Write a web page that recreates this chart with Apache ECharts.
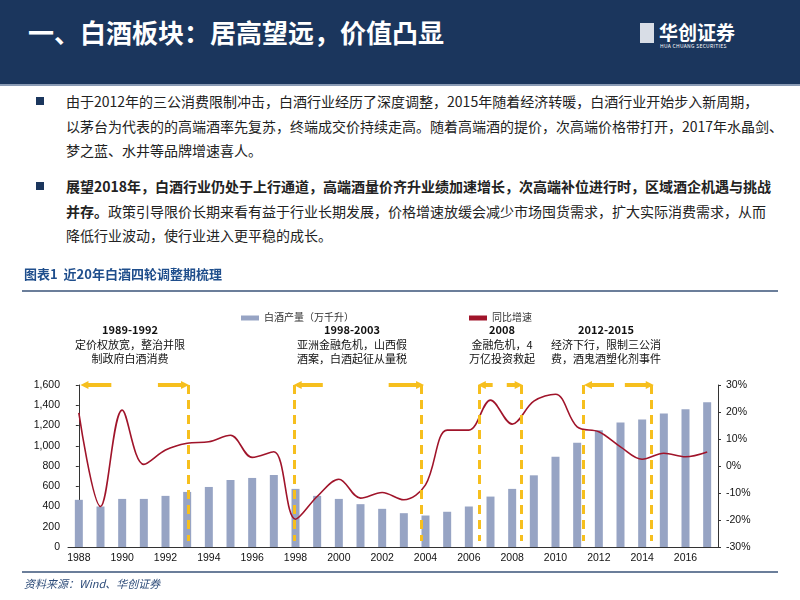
<!DOCTYPE html>
<html><head><meta charset="utf-8">
<script src="https://cdn.jsdelivr.net/npm/echarts@6/dist/echarts.min.js"></script>
<style>
body{margin:0;width:800px;height:600px;background:#fff;font-family:"Noto Sans CJK SC",sans-serif;position:relative;overflow:hidden}
#head{position:absolute;left:0;top:0;width:800px;height:84px;background:#1b365d;border-bottom:2px solid #8a9bb5}
#head .t{position:absolute;left:28px;top:13px;color:#fff;font-size:26px;font-weight:bold}
#head .logo{position:absolute;left:640px;top:18px;color:#fff;font-size:19px;font-weight:bold}
#head .logo small{display:block;font-size:5px;font-weight:normal;letter-spacing:.3px;margin-left:20px;margin-top:-3px}
#head .logo i{display:inline-block;width:14px;height:20px;background:#d8dde6;margin-right:5px;vertical-align:-3px}
.p{position:absolute;left:66px;white-space:nowrap;font-size:14px;line-height:24.5px;color:#222}
.b{position:absolute;left:36px;width:8px;height:8px;background:#1b365d}
#chart{position:absolute;left:0;top:260px;width:800px;height:340px}
</style></head><body>
<div id="head"><div class="t">一、白酒板块：居高望远，价值凸显</div>
<div class="logo"><i></i>华创证券<small>HUA CHUANG SECURITIES</small></div></div>
<div class="b" style="top:97px"></div>
<div class="p" style="top:89px">由于2012年的三公消费限制冲击，白酒行业经历了深度调整，2015年随着经济转暖，白酒行业开始步入新周期，<br>以茅台为代表的的高端酒率先复苏，终端成交价持续走高。随着高端酒的提价，次高端价格带打开，2017年水晶剑、<br>梦之蓝、水井等品牌增速喜人。</div>
<div class="b" style="top:182px"></div>
<div class="p" style="top:174px"><b>展望2018年，白酒行业仍处于上行通道，高端酒量价齐升业绩加速增长，次高端补位进行时，区域酒企机遇与挑战<br>并存。</b>政策引导限价长期来看有益于行业长期发展，价格增速放缓会减少市场囤货需求，扩大实际消费需求，从而<br>降低行业波动，使行业进入更平稳的成长。</div>
<div id="chart"></div>
<script>
var years = [];
for (var y = 1988; y <= 2017; y++) years.push(String(y));
var output = [466,400,475,475,505,544,593,662,682,711,574,505,475,423,377,334,311,348,400,498,574,708,892,1030,1154,1230,1259,1318,1361,1430];
var growth = [19.7,-15,20.7,0.6,5.9,8.4,9,11.4,3.2,5.3,-19.7,-11.3,-4.9,-11.9,-9.8,-12.5,-7,13.3,13.3,24.4,15.5,24,26.6,14.5,12.7,7.1,2.5,4.7,3.4,5.2];
// 调整期边界（类目序号）
var periodLines = [5.05, 9.92, 15.8, 18.5, 20.4, 23.3, 26.4];
// 箭头 [起点, 终点]
var arrows = [[1.5,0.26],[3.65,4.9],[11.26,10.1],[14.3,15.75],[19.1,18.6],[19.75,20.3],[24.7,23.5],[25.2,26.35]];
var notes = [
  {x:130, title:'1989-1992', lines:['定价权放宽，整治并限','制政府白酒消费']},
  {x:352, title:'1998-2003', lines:['亚洲金融危机，山西假','酒案，白酒起征从量税']},
  {x:502, title:'2008', lines:['金融危机，4','万亿投资救起']},
  {x:606, title:'2012-2015', lines:['经济下行，限制三公消','费，酒鬼酒塑化剂事件']}
];
var yellow = '#f6bf1e';
var markData = [];
periodLines.forEach(function(x){
  markData.push([{coord:[x,1600],symbol:'none',lineStyle:{type:[9,6],width:3,color:yellow}},{coord:[x,60],symbol:'none'}]);
});
arrows.forEach(function(a){
  markData.push([{coord:[a[0],1600],symbol:'none',lineStyle:{type:'solid',width:4,color:yellow}},{coord:[a[1],1600],symbol:'triangle',symbolSize:[8,8]}]);
});
var graphics = [
  {type:'text',left:24,top:8,style:{text:'图表1  近20年白酒四轮调整期梳理',fill:'#1f4e8c',font:'bold 13px "Noto Sans CJK SC"'}},
  {type:'line',shape:{x1:22,y1:31,x2:778,y2:31},style:{stroke:'#3a5378',lineWidth:1.5}},
  {type:'line',shape:{x1:22,y1:312,x2:778,y2:312},style:{stroke:'#3a5378',lineWidth:1.5}},
  {type:'text',left:24,top:318,style:{text:'资料来源：Wind、华创证券',fill:'#2f4d7a',font:'italic 11px "Noto Sans CJK SC"'}}
];
notes.forEach(function(n){
  graphics.push({type:'text',x:n.x,y:64,style:{text:n.title,fill:'#111',align:'center',font:'bold 11px "Noto Sans CJK SC"'}});
  graphics.push({type:'text',x:n.x,y:78,style:{text:n.lines.join('\n'),fill:'#111',align:'center',lineHeight:14,font:'11px "Noto Sans CJK SC"'}});
});
var chart = echarts.init(document.getElementById('chart'));
chart.setOption({
  animation:false,
  textStyle:{fontFamily:'Liberation Sans, "Noto Sans CJK SC"'},
  grid:{left:68,right:82,top:125,bottom:53},
  legend:{top:48,left:236,itemGap:115,itemWidth:18,itemHeight:5,textStyle:{fontSize:10,color:'#333'},
    data:[{name:'白酒产量（万千升）',icon:'rect'},{name:'同比增速',icon:'rect'}]},
  graphic:graphics,
  xAxis:[{type:'category',data:years,axisTick:{alignWithLabel:false,interval:0,length:3},
    axisLine:{lineStyle:{color:'#333'}},axisLabel:{interval:1,color:'#111',fontSize:10.5,margin:6}},
    {type:'value',min:-0.5,max:29.5,show:false}],
  yAxis:[{type:'value',min:0,max:1600,interval:200,splitLine:{show:false},
    axisLine:{show:true,lineStyle:{color:'#333'}},axisTick:{show:true,length:3},
    axisLabel:{color:'#111',fontSize:10.5,formatter:function(v){return v.toLocaleString('en-US');}}},
    {type:'value',min:-30,max:30,interval:10,splitLine:{show:false},
    axisLine:{show:true,lineStyle:{color:'#333'}},axisTick:{show:true,length:3},
    axisLabel:{color:'#111',fontSize:10.5,formatter:'{value}%'}}],
  series:[
    {name:'白酒产量（万千升）',type:'bar',data:output,barWidth:8,itemStyle:{color:'#97a4c4'}},
    {name:'同比增速',type:'line',yAxisIndex:1,data:growth,smooth:0.35,symbol:'none',lineStyle:{color:'#a0142a',width:1.6},itemStyle:{color:'#a0142a'}},
    {type:'line',xAxisIndex:1,yAxisIndex:0,data:[],silent:true,
      markLine:{silent:true,animation:false,label:{show:false},lineStyle:{color:yellow},data:markData}}
  ]
});
</script>
</body></html>
